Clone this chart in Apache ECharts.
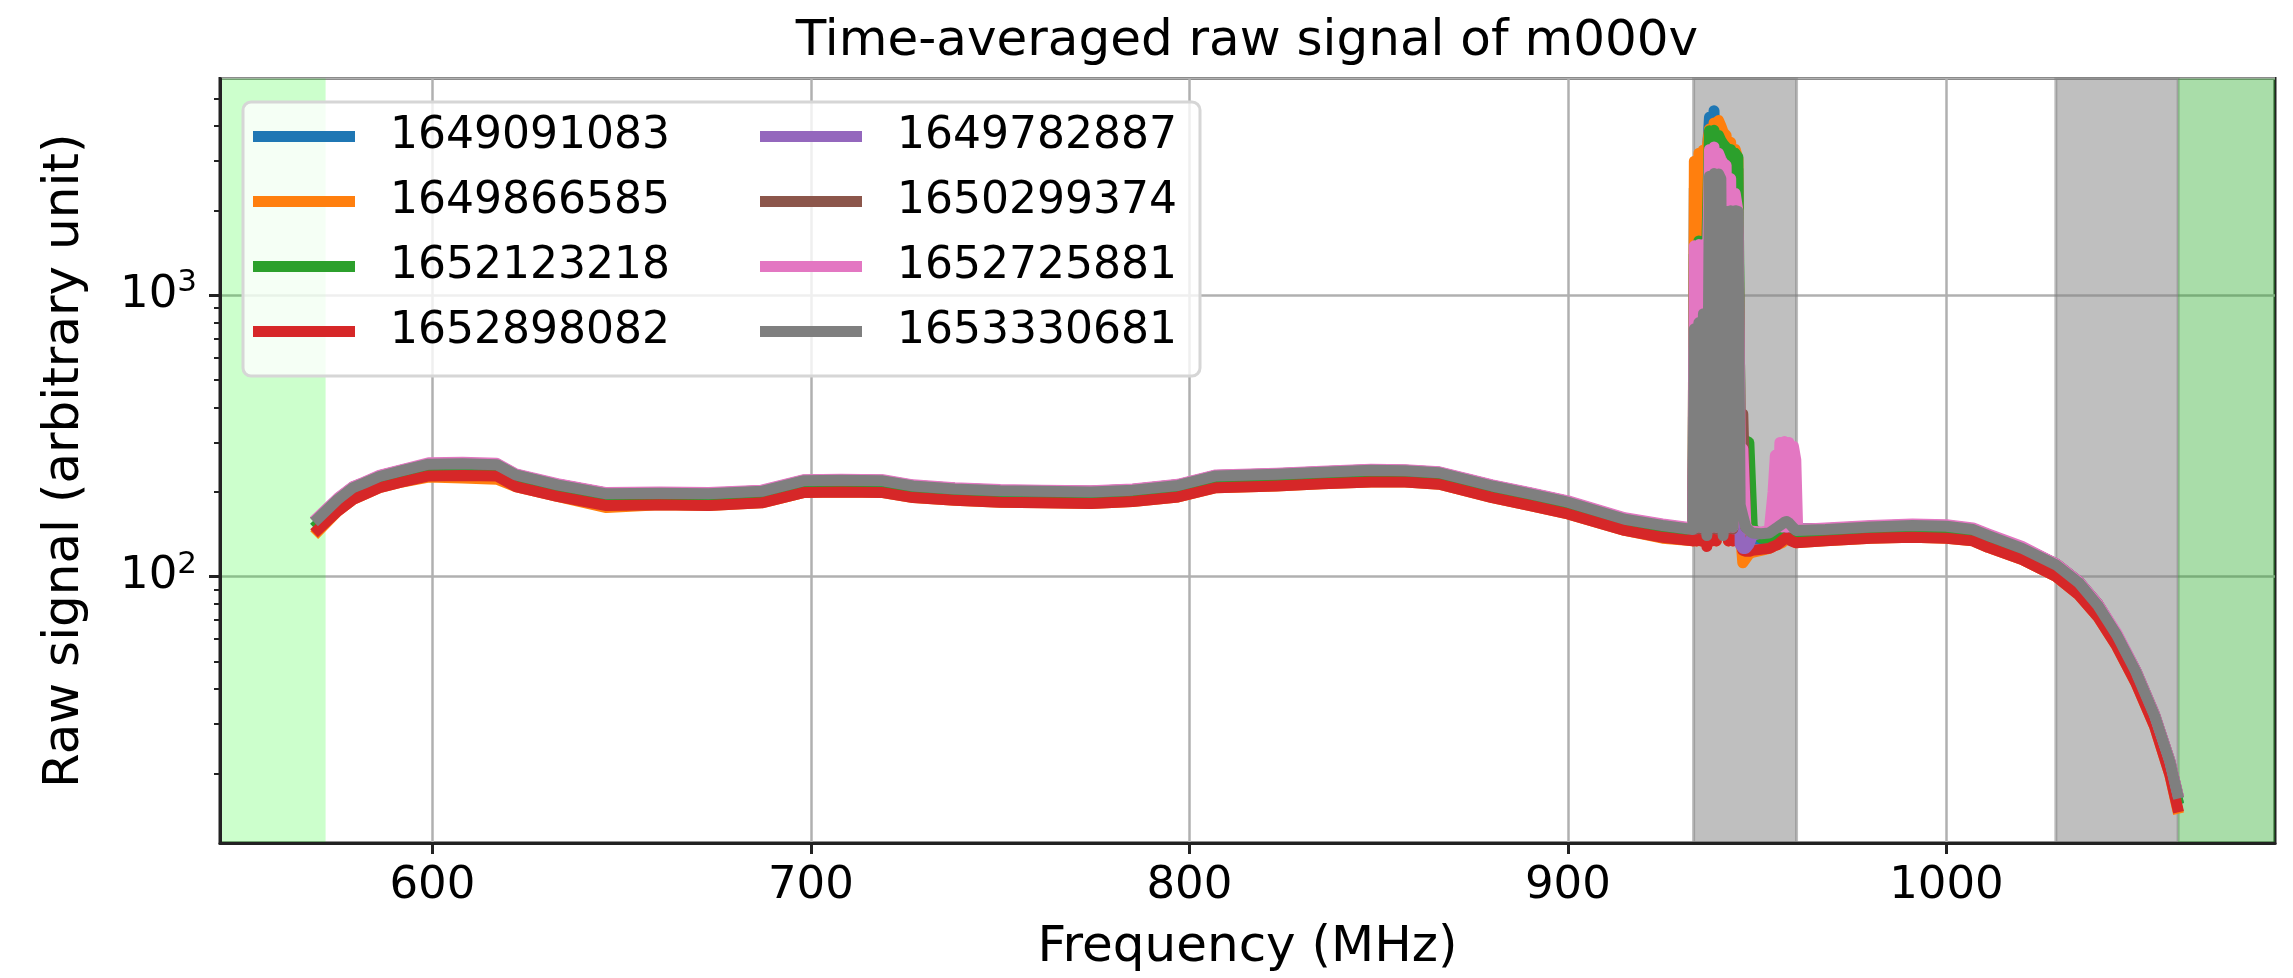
<!DOCTYPE html>
<html>
<head>
<meta charset="utf-8">
<script src="https://cdn.jsdelivr.net/npm/echarts@6/dist/echarts.min.js"></script>
<style>
html,body{margin:0;padding:0;background:#ffffff;}
#chart{width:2293px;height:978px;}
</style>
</head>
<body>
<div id="chart"></div>
<script>
// ---------------- DATA ----------------
const freq = [569.8, 575, 579, 582, 586, 592, 599, 608, 617, 622, 633, 646, 660, 673, 687, 698, 708, 719, 727, 738, 750, 761, 774, 785, 797, 807, 823, 835, 848, 857, 866, 880, 890, 900, 915, 925,
  933.0, 933.4, 934.0, 934.6, 935.2, 935.8, 936.2, 936.7, 937.4, 938.0, 938.6, 939.2, 939.8, 940.4, 941.0, 941.8, 942.4, 943.0, 943.6, 944.2, 944.9,
  945.5, 946.2, 947.0, 947.8, 948.7, 951.0, 953.2, 954.2, 954.8, 955.4, 956.0, 956.6, 957.2, 957.8, 958.4, 959.0, 959.6, 960.2, 960.7,
  968, 980, 991, 1000, 1007, 1011, 1020, 1029, 1035, 1040, 1045, 1050, 1055, 1059, 1061];

const s1649091083 = [154, 180, 198, 205, 217, 227, 240, 241, 239, 220, 202, 188, 189, 188, 192, 209, 210, 209, 201, 196, 193, 192, 191, 194, 202, 218, 221, 224, 228, 227, 223, 201, 188, 176, 153, 145,
  140, 2400, 140, 2700, 140, 2900, 2900, 3000, 4300, 140, 4530, 140, 4000, 3800, 3500, 3300, 140, 3100, 140, 2950, 2800,
  200, 140, 136, 135, 136, 136, 137, 139, 140, 141, 142, 144, 145, 146, 145, 143, 141, 140, 138,
  140, 143, 145, 144, 140, 134, 120, 105, 91, 75, 59, 44, 30.6, 21, 16.2];

const s1649866585 = [145, 171, 188, 196, 207, 217, 226, 224, 222, 209, 193, 176, 180, 179, 183, 199, 200, 199, 191, 187, 184, 183, 182, 185, 192, 207, 210, 214, 217, 217, 213, 191, 179, 167, 146, 137,
  134, 3000, 134, 3200, 134, 3280, 3280, 3300, 3900, 134, 4100, 134, 4180, 4000, 3800, 3700, 134, 3500, 134, 3300, 3060,
  150, 112, 116, 120, 122, 124, 126, 128, 129, 130, 131, 132, 134, 136, 136, 135, 134, 132, 131,
  134, 137, 138, 137, 134, 127, 115, 100, 86, 72, 56.5, 42, 29.3, 19.8, 15];

const s1652123218 = [154, 180, 198, 205, 217, 227, 240, 241, 239, 220, 202, 188, 189, 188, 192, 209, 210, 209, 201, 196, 193, 192, 191, 194, 202, 218, 221, 224, 228, 227, 223, 201, 188, 176, 153, 145,
  140, 1400, 140, 1560, 140, 1560, 1560, 1500, 3850, 140, 3860, 140, 3700, 3550, 3450, 3350, 140, 3300, 140, 3200, 3100,
  304, 304, 304, 300, 150, 137, 137, 139, 140, 141, 142, 144, 145, 146, 145, 143, 141, 140, 138,
  140, 143, 145, 144, 140, 134, 120, 105, 91, 75, 59, 44, 30.6, 21, 16.2];

const s1652898082 = [147, 171, 188, 196, 207, 217, 228, 229, 228, 209, 193, 179, 180, 179, 183, 199, 200, 199, 191, 187, 184, 183, 182, 185, 192, 207, 210, 214, 217, 217, 213, 191, 179, 167, 146, 138,
  134, 600, 134, 650, 134, 700, 700, 128, 1700, 134, 1800, 134, 1750, 1700, 600, 1400, 134, 1500, 134, 1450, 1400,
  135, 124, 123, 123, 124, 125, 126, 128, 129, 130, 132, 134, 136, 138, 136, 134, 133, 132, 131,
  134, 137, 138, 137, 134, 127, 115, 100, 86, 72, 56.5, 42, 29.3, 19.8, 15.2];

const s1649782887 = [162, 189, 208, 216, 228, 239, 252, 253, 251, 231, 213, 198, 199, 198, 202, 220, 221, 220, 211, 206, 203, 202, 201, 204, 212, 229, 232, 236, 240, 239, 235, 211, 198, 185, 161, 153,
  148, 650, 148, 700, 148, 750, 750, 145, 2200, 148, 2300, 148, 2200, 2100, 145, 1700, 148, 1700, 148, 1650, 1650,
  130, 126, 126, 130, 140, 143, 145, 148, 150, 152, 155, 158, 165, 150, 152, 150, 149, 148, 146,
  148, 151, 153, 152, 148, 141, 127, 111, 96, 80, 62.5, 46.5, 32.3, 22.2, 17.1];

const s1650299374 = [162, 189, 208, 216, 228, 239, 252, 253, 251, 231, 213, 198, 199, 198, 202, 220, 221, 220, 211, 206, 203, 202, 201, 204, 212, 229, 232, 236, 240, 239, 235, 211, 198, 185, 161, 153,
  148, 600, 148, 650, 148, 700, 700, 145, 2300, 148, 2400, 148, 2300, 2200, 1150, 1800, 148, 1800, 148, 1750, 1750,
  380, 378, 150, 146, 144, 143, 145, 147, 149, 151, 153, 155, 157, 157, 155, 152, 149, 147, 146,
  148, 151, 153, 152, 148, 141, 127, 111, 96, 80, 62.5, 46.5, 32.3, 22.2, 17.1];

const s1652725881 = [163, 190, 209, 217, 229, 240, 254, 255, 253, 232, 214, 199, 200, 199, 203, 221, 222, 221, 212, 207, 204, 203, 202, 205, 213, 230, 233, 237, 241, 240, 236, 212, 199, 186, 162, 154,
  149, 1500, 150, 1515, 150, 1515, 1515, 950, 3300, 150, 3370, 150, 3200, 3050, 2950, 2900, 150, 2600, 150, 2300, 2000,
  290, 285, 152, 146, 145, 144, 146, 200, 270, 150, 300, 150, 302, 150, 300, 150, 290, 260, 147,
  149, 152, 154, 153, 149, 142, 128, 111, 96, 80, 63, 46.5, 32.3, 22.2, 17.2];

const s1653330681 = [161, 188, 207, 215, 227, 238, 251, 252, 250, 230, 212, 197, 198, 197, 201, 219, 220, 219, 210, 205, 202, 201, 200, 203, 211, 228, 231, 235, 239, 238, 234, 210, 197, 184, 160, 152,
  147, 760, 150, 800, 150, 860, 860, 140, 2650, 150, 2710, 150, 2700, 2600, 140, 1990, 150, 2000, 150, 2000, 1990,
  180, 165, 150, 146, 143, 142, 143, 146, 148, 150, 152, 154, 156, 157, 155, 152, 149, 146, 145,
  147, 150, 152, 151, 147, 140, 126, 110, 95, 79, 62, 46, 32, 22, 17];

const seriesNames = ['1649091083', '1649866585', '1652123218', '1652898082', '1649782887', '1650299374', '1652725881', '1653330681'];
const seriesValues = [s1649091083, s1649866585, s1652123218, s1652898082, s1649782887, s1650299374, s1652725881, s1653330681];

const xTickValues = [600, 700, 800, 900, 1000];
const yMajorTicks = [100, 1000];
const yMinorTicks = [20, 30, 40, 50, 60, 70, 80, 90, 200, 300, 400, 500, 600, 700, 800, 900, 2000, 3000, 4000, 5000];

const xLimits = [543.9, 1086.8];
const yLimits = [11.3, 5900];

// shaded frequency bands [from, to] in MHz
const greenBandLow = [543.9, 571.8];
const greyBand1 = [933.2, 960.4];
const greyBand2 = [1028.9, 1061.2];
const greenBandHigh = [1061.2, 1086.8];

// ---------------- STYLE ----------------
const palette = ['#1f77b4', '#ff7f0e', '#2ca02c', '#d62728', '#9467bd', '#8c564b', '#e377c2', '#7f7f7f'];
const FONT = 'DejaVu Sans';
const DARK = '#222222';
const GRIDC = '#b0b0b0';

const chart = echarts.init(document.getElementById('chart'), null, {renderer: 'canvas', width: 2293, height: 978});

function band(range, color, border) {
  return [{xAxis: range[0], itemStyle: {color: color, borderColor: color, borderWidth: border}}, {xAxis: range[1]}];
}

const lineSeries = seriesNames.map((name, i) => ({
  name: name,
  type: 'line',
  data: freq.map((f, j) => [f, seriesValues[i][j]]),
  showSymbol: false,
  symbol: 'none',
  color: palette[i],
  lineStyle: {width: 11, color: palette[i], cap: 'square', join: 'round'},
  emphasis: {disabled: true},
  silent: true,
  z: 2
}));

const bandSeries = {
  type: 'line',
  data: [],
  silent: true,
  z: 0,
  markArea: {
    silent: true,
    data: [
      band(greenBandLow, 'rgba(0,255,0,0.2)', 0),
      band(greyBand1, 'rgba(128,128,128,0.5)', 3),
      band(greyBand2, 'rgba(128,128,128,0.5)', 3),
      band(greenBandHigh, 'rgba(40,170,40,0.4)', 0)
    ]
  }
};

const lg = v => Math.log10(v);

const legendData = seriesNames.map((n, i) => ({
  name: n,
  icon: 'rect',
  textStyle: {width: i < 4 ? 355 : 280}
}));

const option = {
  animation: false,
  backgroundColor: '#ffffff',
  title: {
    text: 'Time-averaged raw signal of m000v',
    left: 1247,
    top: 17,
    padding: 0,
    textAlign: 'center',
    textStyle: {fontFamily: FONT, fontSize: 50, fontWeight: 'normal', color: '#000', lineHeight: 50}
  },
  grid: {
    left: 220, top: 78.5, right: 18, bottom: 129,
    show: true, borderColor: DARK, borderWidth: 3, backgroundColor: 'transparent', z: 1,
    containLabel: false
  },
  legend: {
    orient: 'vertical',
    left: 243,
    top: 102,
    height: 250,
    padding: [9.5, 23, 19.5, 10],
    itemGap: 15,
    itemWidth: 102,
    itemHeight: 11,
    selectedMode: false,
    backgroundColor: 'rgba(255,255,255,0.8)',
    borderColor: '#d6d6d6',
    borderWidth: 3,
    borderRadius: 8,
    data: legendData,
    textStyle: {fontFamily: FONT, fontSize: 44, color: '#000', lineHeight: 50, padding: [0, 0, 0, 30]}
  },
  xAxis: {
    type: 'value',
    min: xLimits[0],
    max: xLimits[1],
    z: 1,
    name: 'Frequency (MHz)',
    nameLocation: 'middle',
    nameGap: 80,
    nameTextStyle: {fontFamily: FONT, fontSize: 50, color: '#000', lineHeight: 50},
    axisLine: {show: true, lineStyle: {color: DARK, width: 3}},
    axisTick: {show: true, customValues: xTickValues, length: 11, lineStyle: {color: DARK, width: 3}},
    axisLabel: {show: true, customValues: xTickValues, formatter: v => String(v), margin: 21, fontFamily: FONT, fontSize: 45, color: '#000', lineHeight: 45},
    splitLine: {show: true, lineStyle: {color: GRIDC, width: 2.5}}
  },
  yAxis: [
    {
      type: 'log',
      logBase: 10,
      min: yLimits[0],
      max: yLimits[1],
      position: 'left',
      z: 1,
      axisLine: {show: true, lineStyle: {color: DARK, width: 3}},
      axisTick: {show: false},
      axisLabel: {show: false},
      splitLine: {show: true, lineStyle: {color: GRIDC, width: 2.5}}
    },
    {
      type: 'value',
      min: lg(yLimits[0]),
      max: lg(yLimits[1]),
      position: 'left',
      z: 1,
      name: 'Raw signal (arbitrary unit)',
      nameLocation: 'middle',
      nameGap: 130,
      nameTextStyle: {fontFamily: FONT, fontSize: 50, color: '#000', lineHeight: 50},
      axisLine: {show: false},
      splitLine: {show: false},
      axisTick: {show: true, customValues: yMajorTicks.map(lg), length: 11, lineStyle: {color: DARK, width: 3}},
      axisLabel: {
        show: true,
        customValues: yMajorTicks.map(lg),
        margin: 23,
        formatter: v => '{b|10}{s|' + Math.round(v) + '}',
        rich: {
          b: {fontFamily: FONT, fontSize: 45, lineHeight: 55, color: '#000'},
          s: {fontFamily: FONT, fontSize: 31, lineHeight: 31, color: '#000', verticalAlign: 'top'}
        }
      }
    },
    {
      type: 'value',
      min: lg(yLimits[0]),
      max: lg(yLimits[1]),
      position: 'left',
      z: 1,
      axisLine: {show: false},
      splitLine: {show: false},
      axisTick: {show: true, customValues: yMinorTicks.map(lg), length: 6, lineStyle: {color: DARK, width: 2}},
      axisLabel: {show: false}
    }
  ],
  series: [bandSeries].concat(lineSeries)
};

chart.setOption(option);
</script>
</body>
</html>
